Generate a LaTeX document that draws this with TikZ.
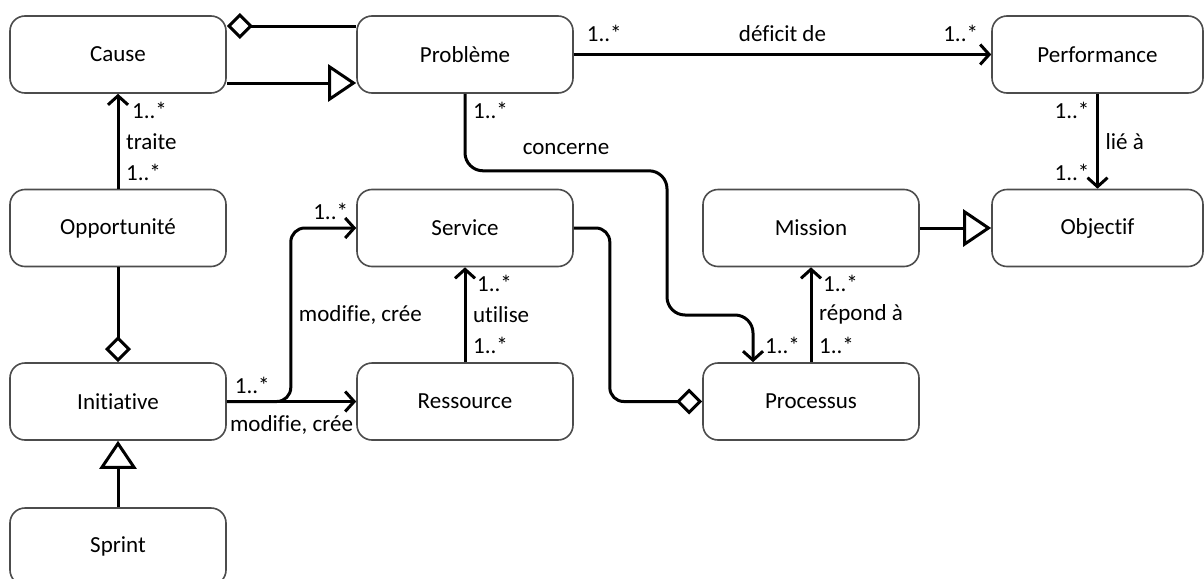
\documentclass[tikz,border=0pt]{standalone}
\usepackage{fontspec}
\setmainfont{Carlito}[Ligatures=NoCommon]
\usetikzlibrary{arrows.meta}

\tikzset{
  classe/.style={draw=black!70, line width=0.8pt, rounded corners=7.5pt, fill=white,
                 minimum width=108pt, minimum height=38.5pt, inner sep=0pt},
  lien/.style={line width=1.5pt},
  assoc/.style={lien, -{Straight Barb[length=4.5pt,width=10pt]}},
  agreg/.style={lien, -{Diamond[open,length=13pt,width=13pt]}},
  herit/.style={lien, -{Triangle[open,length=14pt,width=18.5pt]}}
}

\begin{document}
\begin{tikzpicture}[x=0.5pt, y=-0.5pt, font=\fontsize{11.5}{13}\selectfont]
    \useasboundingbox (0,0) rectangle (1204,578);

    % Classes
    \node[classe] (cause) at (118,54.5) {Cause};
    \node[classe] (probleme) at (465,54.5) {Problème};
    \node[classe, minimum width=105.5pt] (performance) at (1097.5,54.5) {Performance};
    \node[classe] (opportunite) at (118,228) {Opportunité};
    \node[classe] (service) at (465,228) {Service};
    \node[classe] (mission) at (811,228) {Mission};
    \node[classe, minimum width=105.5pt] (objectif) at (1097.5,228) {Objectif};
    \node[classe] (initiative) at (118,401.5) {Initiative};
    \node[classe] (ressource) at (465,401.5) {Ressource};
    \node[classe] (processus) at (811,401.5) {Processus};
    \node[classe] (sprint) at (118,546.5) {Sprint};

    % Agregations et heritages
    \draw[agreg] ([yshift=14.25pt]probleme.west) -- ([yshift=14.25pt]cause.east);
    \draw[herit] ([yshift=-14.25pt]cause.east) -- ([yshift=-14.25pt]probleme.west);
    \draw[agreg] (opportunite) -- (initiative);
    \draw[herit] (sprint) -- (initiative);
    \draw[herit] (mission) -- (objectif);
    \draw[agreg, rounded corners=7pt] (service.east) -- ++(36,0) |- (processus.west);

    % Associations
    \draw[assoc] (probleme.east) -- (performance.west)
        node[pos=0, above right=2.5pt] {1..*}
        node[midway, above=2.5pt] {déficit de}
        node[pos=1, above left=2.5pt] {1..*};
    \draw[assoc] (opportunite) -- (cause)
        node[pos=1, below right, xshift=3pt] {1..*}
        node[midway, right] {traite}
        node[pos=0, above right] {1..*};
    \draw[assoc] (performance) -- (objectif)
        node[pos=0, below left] {1..*}
        node[midway, right] {lié à}
        node[pos=1, above left] {1..*};
    \draw[assoc] (ressource) -- (service)
        node[pos=1, below right, xshift=2pt] {1..*}
        node[midway, right] {utilise}
        node[pos=0, above right] {1..*};
    \draw[assoc] (processus) -- (mission)
        node[pos=1, below right, xshift=2pt] {1..*}
        node[midway, right] {répond à}
        node[pos=0, above right] {1..*};
    \draw[assoc] (initiative) -- (ressource)
        node[midway, below=3pt] {modifie, crée};
    \draw[assoc, rounded corners=7pt] (initiative.east) node[above right] {1..*}
        -- ++(64,0) |- node[pos=0.25, right] {modifie, crée}
        node[pos=1, above left] {1..*} (service.west);

    % Concerne
    \coordinate (coude) at (667,315);
    \draw[assoc, rounded corners=9pt] (probleme.south) node[below right] {1..*}
        -- ++(0,77) -| node[pos=0.25, above=4pt] {concerne} (coude)
        -| ([xshift=-29pt]processus.north) node[above right, xshift=2pt] {1..*};
\end{tikzpicture}
\end{document}
